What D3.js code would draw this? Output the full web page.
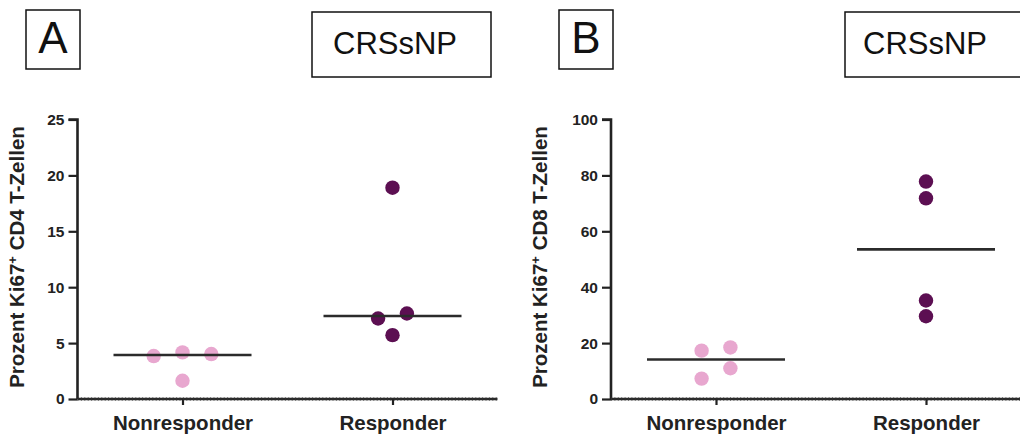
<!DOCTYPE html>
<html>
<head>
<meta charset="utf-8">
<script src="https://cdn.jsdelivr.net/npm/d3@7"></script>
<style>
  body { margin: 0; background: #fff; }
  svg { display: block; font-family: "Liberation Sans", Arial, sans-serif; }
</style>
</head>
<body>
<svg id="chart" width="1020" height="434"></svg>
<script>
// Gruppen
var gruppen = ["Nonresponder", "Responder"];

// Panel A: Ki67+ CD4 T-Zellen (%)
var cd4_non = [3.84, 4.17, 4.02, 1.63];
var cd4_resp = [7.2, 7.65, 5.71, 18.9];
var ticks_a = [0, 5, 10, 15, 20, 25];

// Panel B: Ki67+ CD8 T-Zellen (%)
var cd8_non = [17.3, 7.3, 18.45, 11.0];
var cd8_resp = [77.8, 71.8, 35.25, 29.6];
var ticks_b = [0, 20, 40, 60, 80, 100];

var farben = ["#e8a7cf", "#5c0f52"];
var schrift = "'Liberation Sans', Arial, sans-serif";

var svg = d3.select("#chart");

// Punkte einer Gruppe nebeneinander legen, wenn sie sich überlappen
function anordnen(werte, yScale, r) {
  var idx = werte.map((v, i) => i).sort((a, b) => werte[a] - werte[b]);
  var reihen = [];
  var aktuell = [idx[0]];
  for (var k = 1; k < idx.length; k++) {
    var prev = idx[k - 1], cur = idx[k];
    if (Math.abs(yScale(werte[cur]) - yScale(werte[prev])) < 2 * r) {
      aktuell.push(cur);
    } else {
      reihen.push(aktuell);
      aktuell = [cur];
    }
  }
  reihen.push(aktuell);
  var dx = new Array(werte.length).fill(0);
  reihen.forEach(function(reihe) {
    reihe.sort((a, b) => a - b);
    reihe.forEach(function(i, j) {
      dx[i] = (j - (reihe.length - 1) / 2) * 4 * r;
    });
  });
  return dx;
}

function panel(props) {
  var g = svg.append("g");
  var r = 7.2;

  // Buchstabe und Titelbox
  g.append("rect")
    .attr("x", props.ox + 26).attr("y", 10)
    .attr("width", 54).attr("height", 59)
    .attr("fill", "none").attr("stroke", "#111").attr("stroke-width", 1.5);
  g.append("text")
    .attr("x", props.ox + 53).attr("y", 53)
    .attr("text-anchor", "middle")
    .style("font-size", "44px").attr("fill", "#111")
    .text(props.buchstabe);
  g.append("rect")
    .attr("x", props.ox + 312).attr("y", 12)
    .attr("width", 179).attr("height", 65)
    .attr("fill", "none").attr("stroke", "#111").attr("stroke-width", 1.5);
  g.append("text")
    .attr("x", props.ox + props.titelx).attr("y", 54)
    .style("font-size", "31px").attr("fill", "#111")
    .text("CRSsNP");

  var x0 = props.ox + props.achse;
  var xScale = d3.scalePoint()
    .domain(gruppen)
    .range([x0, x0 + 420])
    .padding(0.5);
  var yScale = d3.scaleLinear()
    .domain([0, props.ymax])
    .range([399, 119.5]);

  // Y-Achse
  var yAxis = d3.axisLeft(yScale).tickValues(props.ticks).tickSize(9).tickPadding(4);
  var yAxisG = g.append("g")
    .attr("transform", "translate(" + x0 + ",0)")
    .call(yAxis);
  yAxisG.select(".domain").attr("stroke", "#222").attr("stroke-width", 2.6)
    .attr("d", "M-9," + yScale(props.ymax) + "H0V" + yScale(0));
  yAxisG.selectAll(".tick line").attr("stroke", "#222").attr("stroke-width", 2.2);
  yAxisG.selectAll(".tick text")
    .style("font-size", "15.5px").style("font-weight", "bold")
    .attr("fill", "#222").style("font-family", schrift);

  // X-Achse
  var xAxis = d3.axisBottom(xScale).tickSize(6).tickPadding(10);
  var xAxisG = g.append("g")
    .attr("transform", "translate(0,399)")
    .call(xAxis);
  xAxisG.select(".domain").attr("stroke", "#2a2a2a").attr("stroke-width", 2.6)
    .attr("d", "M" + x0 + ",0H" + (x0 + 420));
  xAxisG.append("line")
    .attr("x1", x0).attr("x2", x0 + 420)
    .attr("stroke", "#333").attr("stroke-width", 4)
    .attr("stroke-dasharray", "1,2.4").attr("opacity", 0.55);
  xAxisG.selectAll(".tick line").attr("stroke", "#222").attr("stroke-width", 2.2);
  xAxisG.selectAll(".tick text")
    .style("font-size", "20.5px").style("font-weight", "bold")
    .attr("fill", "#222").style("font-family", schrift);

  // Y-Achsentitel
  var titel = g.append("text")
    .attr("transform", "translate(" + (x0 - props.labelAbstand) + ",257) rotate(-90)")
    .attr("text-anchor", "middle")
    .style("font-size", "20.5px").style("font-weight", "bold")
    .attr("fill", "#222");
  titel.append("tspan").text("Prozent Ki67");
  titel.append("tspan").attr("baseline-shift", "super").style("font-size", "13px").text("+");
  titel.append("tspan").text(" " + props.zelltyp + " T-Zellen");

  // Punkte und Median
  props.daten.forEach(function(werte, gi) {
    var cx = xScale(gruppen[gi]);
    var dx = anordnen(werte, yScale, r);
    g.selectAll(".pkt" + gi).data(werte)
      .enter().append("circle")
      .attr("class", "pkt" + gi)
      .attr("cx", (d, i) => cx + dx[i])
      .attr("cy", d => yScale(d))
      .attr("r", r)
      .attr("fill", farben[gi]);
    var med = d3.median(werte);
    g.append("line")
      .attr("x1", cx - 69).attr("x2", cx + 69)
      .attr("y1", yScale(med)).attr("y2", yScale(med))
      .attr("stroke", "#2b2b2b").attr("stroke-width", 2.6);
  });
}

panel({ ox: 0, achse: 77.5, buchstabe: "A", titelx: 333, ymax: 25, ticks: ticks_a,
        zelltyp: "CD4", labelAbstand: 54, daten: [cd4_non, cd4_resp] });
panel({ ox: 533, achse: 78, buchstabe: "B", titelx: 330, ymax: 100, ticks: ticks_b,
        zelltyp: "CD8", labelAbstand: 64, daten: [cd8_non, cd8_resp] });
</script>
</body>
</html>
